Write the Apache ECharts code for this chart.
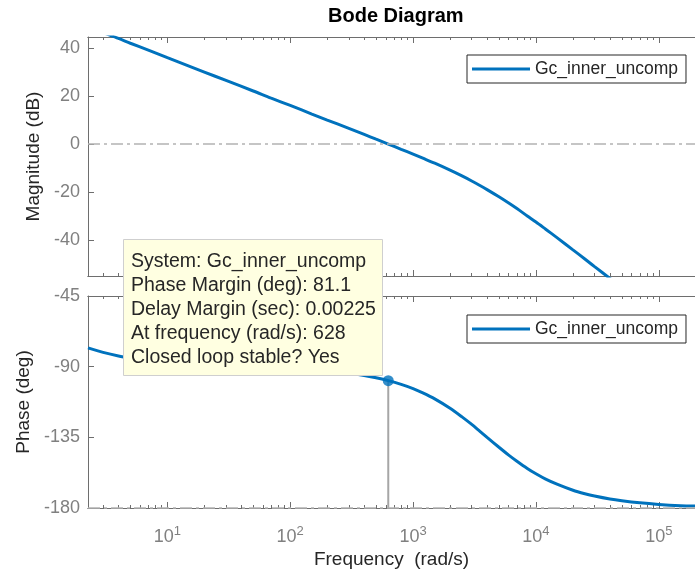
<!DOCTYPE html>
<html>
<head>
<meta charset="utf-8">
<title>Bode Diagram</title>
<script src="https://cdn.jsdelivr.net/npm/echarts@6/dist/echarts.min.js"></script>
<style>
html, body { margin: 0; padding: 0; background: #fff; }
#chart { width: 695px; height: 575px; }
</style>
</head>
<body>
<div id="chart"></div>
<script>
// values
const freq = [2.26, 3, 4, 5, 7, 10, 15, 20, 30, 50, 70, 100, 150, 200, 300, 400, 500, 628, 800, 1000,
  1200, 1500, 2000, 2500, 3000, 3500, 4000, 5000, 6000, 7000, 8500, 10000, 12000, 15000, 20000, 25000,
  30000, 40000, 50000, 70000, 100000, 150000, 197000]
const magDb = [48.8, 46.4, 44.0, 42.0, 39.1, 36.0, 32.5, 30.0, 26.5, 22.1, 19.1, 16.1, 12.5, 10.0, 6.5, 4.0, 2.0, 0.0, -2.2, -4.2,
  -5.9, -8.0, -10.9, -13.3, -15.4, -17.3, -19.0, -22.0, -24.6, -26.9, -30.0, -32.5, -35.5, -39.2, -44.1, -47.9,
  -51.1, -56.0, -59.9, -65.7, -71.9, -78.9, -83.7]
const phaseDeg = [-78.0, -80.9, -83.2, -84.5, -86.1, -87.4, -88.4, -88.9, -89.5, -90.2, -90.6, -91.2, -92.0, -92.7, -94.2, -95.6, -97.1, -98.9, -101.3, -104.0,
  -106.7, -110.5, -116.5, -122.0, -126.8, -131.2, -135.0, -141.3, -146.3, -150.2, -154.8, -158.2, -161.6, -165.0, -168.7, -170.9,
  -172.4, -174.3, -175.4, -176.7, -177.7, -178.5, -178.8]

const freqRange = [2.26, 197000]
const magRange = [-55, 44.6]
const phaseRange = [-180, -45]
const magTicks = [-40, -20, 0, 20, 40]
const phaseTicks = [-180, -135, -90, -45]
const decadeExp = [1, 2, 3, 4, 5]
const refMag = 0
const refPhase = -180
const crossFreq = 628
const crossPhase = -98.9
const sysName = 'Gc_inner_uncomp'
const tipLines = [
  'System: Gc_inner_uncomp',
  'Phase Margin (deg): 81.1',
  'Delay Margin (sec): 0.00225',
  'At frequency (rad/s): 628',
  'Closed loop stable? Yes'
]

const font = '"Liberation Sans", Arial, Helvetica, sans-serif'
const blue = '#0072bd'
const axisColor = '#6e6e6e'
const labelColor = '#808080'
const lg = v => Math.log10(v)
const xMin = lg(freqRange[0])
const xMax = lg(freqRange[1])

// minor log ticks 2..9 in every decade
const minorTicks = []
for (let d = 0; d <= 5; d++) {
  for (let k = 2; k <= 9; k++) {
    const v = d + lg(k)
    if (v > xMin && v < xMax) minorTicks.push(v)
  }
}

function xAxisFor (grid, pos, ticks, len, label, name) {
  return {
    type: 'value',
    gridIndex: grid,
    position: pos,
    min: xMin,
    max: xMax,
    name: name || '',
    nameLocation: 'middle',
    nameGap: 42,
    nameTextStyle: { fontFamily: font, fontSize: 19, color: '#262626' },
    axisLine: { show: true, onZero: false, lineStyle: { color: axisColor, width: 1 } },
    axisTick: { show: true, inside: true, length: len, customValues: ticks, lineStyle: { color: axisColor } },
    axisLabel: label ? {
      show: true,
      customValues: decadeExp,
      margin: 17,
      fontFamily: font,
      fontSize: 18,
      color: labelColor,
      formatter: v => '10{sup|' + Math.round(v) + '}',
      rich: {
        sup: { fontFamily: font, fontSize: 13, color: labelColor, verticalAlign: 'top', padding: [0, 0, 12, 0] }
      }
    } : { show: false },
    splitLine: { show: false }
  }
}

function yAxisFor (grid, range, ticks, name, gap) {
  return {
    type: 'value',
    gridIndex: grid,
    min: range[0],
    max: range[1],
    name: name,
    nameLocation: 'middle',
    nameGap: gap,
    nameTextStyle: { fontFamily: font, fontSize: 19, color: '#262626' },
    axisLine: { show: true, onZero: false, lineStyle: { color: axisColor, width: 1 } },
    axisTick: { show: true, inside: true, length: 6, customValues: ticks, lineStyle: { color: axisColor } },
    axisLabel: { show: true, customValues: ticks, margin: 8, fontFamily: font, fontSize: 18, color: labelColor },
    splitLine: { show: false }
  }
}

function legendFor (top) {
  return {
    data: [sysName],
    left: 467,
    top: top,
    orient: 'horizontal',
    selectedMode: false,
    icon: 'rect',
    itemWidth: 58,
    itemHeight: 3,
    padding: [5, 8, 5, 5],
    borderColor: '#262626',
    borderWidth: 1,
    backgroundColor: '#fff',
    textStyle: { fontFamily: font, fontSize: 17.5, color: '#262626' }
  }
}

const dashDot = [12, 4, 3, 4]

const chart = echarts.init(document.getElementById('chart'))
chart.setOption({
  animation: false,
  backgroundColor: '#fff',
  title: {
    text: 'Bode Diagram',
    left: 323,
    top: 1,
    textStyle: { fontFamily: font, fontSize: 20, fontWeight: 'bold', color: '#000' }
  },
  legend: [legendFor(55), legendFor(315)],
  grid: [
    { left: 88, right: 0, top: 37, height: 239 },
    { left: 88, right: 0, top: 296, height: 212 }
  ],
  xAxis: [
    xAxisFor(0, 'bottom', decadeExp, 6, false),
    xAxisFor(0, 'bottom', minorTicks, 3, false),
    xAxisFor(0, 'top', decadeExp, 6, false),
    xAxisFor(0, 'top', minorTicks, 3, false),
    xAxisFor(1, 'bottom', decadeExp, 6, true, 'Frequency  (rad/s)'),
    xAxisFor(1, 'bottom', minorTicks, 3, false),
    xAxisFor(1, 'top', decadeExp, 6, false),
    xAxisFor(1, 'top', minorTicks, 3, false)
  ],
  yAxis: [
    yAxisFor(0, magRange, magTicks, 'Magnitude (dB)', 44),
    yAxisFor(1, phaseRange, phaseTicks, 'Phase (deg)', 55)
  ],
  series: [
    {
      name: sysName,
      type: 'line',
      xAxisIndex: 0,
      yAxisIndex: 0,
      data: freq.map((f, i) => [lg(f), magDb[i]]),
      symbol: 'none',
      smooth: 0.3,
      clip: true,
      z: 3,
      lineStyle: { color: blue, width: 3 },
      itemStyle: { color: blue },
      markLine: {
        silent: true,
        symbol: ['none', 'none'],
        label: { show: false },
        lineStyle: { color: '#b3b3b3', width: 1.5, type: dashDot },
        data: [{ yAxis: refMag }]
      }
    },
    {
      name: sysName,
      type: 'line',
      xAxisIndex: 4,
      yAxisIndex: 1,
      data: freq.map((f, i) => [lg(f), phaseDeg[i]]),
      symbol: 'none',
      smooth: 0.3,
      clip: true,
      z: 3,
      lineStyle: { color: blue, width: 3 },
      itemStyle: { color: blue },
      markLine: {
        silent: true,
        symbol: ['none', 'none'],
        label: { show: false },
        lineStyle: { color: '#b3b3b3', width: 1.5, type: dashDot },
        data: [{ yAxis: refPhase }]
      }
    },
    {
      name: 'margin line',
      type: 'line',
      xAxisIndex: 4,
      yAxisIndex: 1,
      data: [[lg(crossFreq), crossPhase], [lg(crossFreq), refPhase]],
      symbol: 'none',
      z: 2,
      lineStyle: { color: '#a6a6a6', width: 2 }
    },
    {
      name: 'margin point',
      type: 'scatter',
      xAxisIndex: 4,
      yAxisIndex: 1,
      data: [[lg(crossFreq), crossPhase]],
      symbolSize: 11,
      z: 4,
      itemStyle: { color: blue }
    }
  ],
  graphic: [
    {
      type: 'rect',
      left: 123,
      top: 239,
      z: 100,
      shape: { width: 259, height: 136 },
      style: { fill: '#ffffe1', stroke: '#cfcfcf', lineWidth: 1 }
    },
    {
      type: 'text',
      left: 131,
      top: 250,
      z: 101,
      style: {
        text: tipLines.join('\n'),
        font: '19.5px ' + font,
        lineHeight: 24,
        fill: '#262626'
      }
    }
  ]
})
</script>
</body>
</html>
